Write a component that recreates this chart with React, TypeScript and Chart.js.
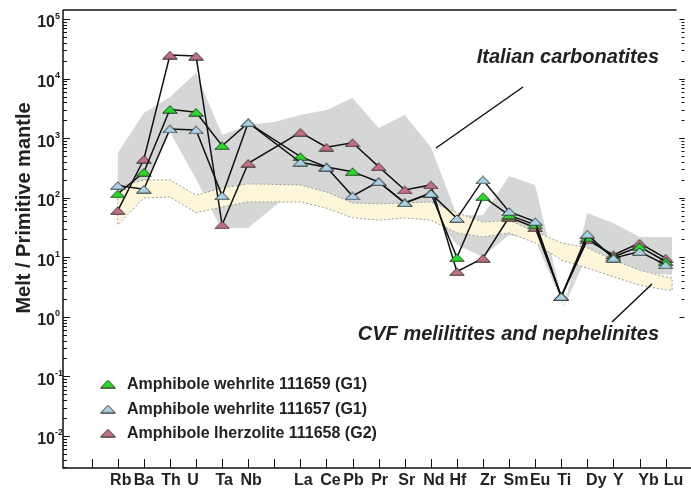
import React, { useEffect, useRef } from 'react';
import { Chart, registerables } from 'chart.js';

Chart.register(...registerables);

// ---------- data ----------
const elements = ['Rb', 'Ba', 'Th', 'U', 'Ta', 'Nb', '', 'La', 'Ce', 'Pb', 'Pr', 'Sr', 'Nd', 'Hf', 'Zr', 'Sm', 'Eu', 'Ti', 'Dy', 'Y', 'Yb', 'Lu'];

const wehrlite111659 = [116, 268, 3055, 2720, 748, 1800, null, 490, 329, 274, 184, 82, 120, 9.9, 104, 51, 35, 2.19, 21.2, 10.2, 15.1, 8.5];
const wehrlite111657 = [160, 139, 1427, 1373, 108, 1820, null, 394, 325, 107, 186, 82, 118, 45, 199, 58.5, 39.7, 2.19, 24.4, 9.66, 12.5, 7.45];
const lherzolite111658 = [60.8, 443, 24900, 23900, 35, 379, null, 1256, 704, 840, 333, 135, 164, 5.75, 9.66, 47, 31.5, 2.19, 19.6, 11, 17.3, 9.66];

// Italian carbonatites field: [element position, value]
const carbUpper = [[0, 565], [1, 2650], [2, 4910], [3, 12400], [4, 1130], [5, 1660], [6, 1870], [7, 2450], [8, 2970], [9, 4720], [10, 1480], [11, 2450], [12, 711], [13, 51], [14, 51], [15, 232], [16, 164], [17.1, 1.47], [18, 55.6], [19, 37.8], [20, 22], [21.25, 22]];
const carbLower = [[21.25, 5.07], [20, 5.47], [19, 7.45], [18, 11], [17.1, 1.47], [16, 19.6], [15, 23.8], [14, 10.2], [13, 16.1], [12, 62], [11, 62], [10, 62], [9, 76], [8, 111], [7, 164], [6.3, 92], [5, 31], [3.95, 31], [3, 206], [2, 1270], [1, 135], [0, 92]];

// CVF melilitites and nephelinites field
const cvfUpper = [[0, 152], [1, 199], [2, 199], [3, 111], [4, 146], [5, 171], [7, 164], [8, 125], [9, 82], [10, 79], [11, 82], [12, 85], [13, 56], [14, 39], [15, 42], [16, 27], [17, 17.5], [18, 14.4], [19, 9.0], [20, 6.1], [21, 4.7], [21.25, 4.5]];
const cvfLower = [[21.25, 2.8], [21, 2.84], [20, 3.4], [19, 4.7], [18, 6.6], [17, 9.0], [16, 17.5], [15, 25.7], [14, 22], [13, 25.7], [12, 42], [11, 46], [10, 42], [9, 46], [8, 67], [7, 85], [5, 85], [4, 70], [3, 56], [2, 103], [1, 99], [0, 35]];

const yTickExponents = [-2, -1, 0, 1, 2, 3, 4, 5];
const rightTickExponents = [0, 1, 2, 3, 4];
const legendLabels = ['Amphibole wehrlite 111659 (G1)', 'Amphibole wehrlite 111657 (G1)', 'Amphibole lherzolite 111658 (G2)'];
const seriesColors = ['#1ee21e', '#a8d2e8', '#c66f83'];
const axisTitle = 'Melt / Primitive mantle';
const fieldLabels = ['Italian carbonatites', 'CVF melilitites and nephelinites'];

// layout (pixel nudges of the element labels, as typeset in the original figure)
const labelNudge = [3, 0, 1, -3, 2, 3, 0, 3, 4, 1, 1, 2, 3, 1, 5, 7, 5, 3, 9, 5, 9, 8];

const X_MIN = -2.1;
const X_MAX = 21.61;
const Y_MIN = 0.0029;
const Y_MAX = 1.42e5;

const FONT = "Arial, 'Liberation Sans', Helvetica, sans-serif";

function makeTriangle(color: string, w = 16, h = 9): HTMLCanvasElement {
  const c = document.createElement('canvas');
  c.width = w;
  c.height = h;
  const g = c.getContext('2d')!;
  g.beginPath();
  g.moveTo(0.75, h - 0.75);
  g.lineTo(w - 0.75, h - 0.75);
  g.lineTo(w / 2, 0.75);
  g.closePath();
  g.fillStyle = color;
  g.fill();
  g.strokeStyle = '#333';
  g.lineWidth = 1;
  g.stroke();
  return c;
}

function toPoints(vals: (number | null)[]) {
  const pts: { x: number; y: number }[] = [];
  vals.forEach((v, i) => {
    if (v !== null) pts.push({ x: i, y: v });
  });
  return pts;
}

function polygon(upper: number[][], lower: number[][], close: boolean) {
  const pts = [...upper, ...lower].map(([x, y]) => ({ x, y }));
  if (close) pts.push({ x: upper[0][0], y: upper[0][1] });
  return pts;
}

export default function App() {
  const ref = useRef<HTMLCanvasElement | null>(null);

  useEffect(() => {
    if (!ref.current) return;
    const tris = seriesColors.map((c) => makeTriangle(c));

    const decor = {
      id: 'decor',
      afterDraw(chart: any) {
        const { ctx, chartArea: a, scales } = chart;
        const xs = scales.x;
        const ys = scales.y;
        ctx.save();
        ctx.strokeStyle = '#111';
        // frame
        ctx.lineWidth = 1.5;
        ctx.beginPath();
        ctx.moveTo(a.left, a.top);
        ctx.lineTo(a.left, a.bottom);
        ctx.lineTo(chart.width, a.bottom);
        ctx.moveTo(a.left, a.top);
        ctx.lineTo(a.right - 5, a.top);
        ctx.stroke();

        // y ticks
        ctx.lineWidth = 1;
        ctx.beginPath();
        for (let e = -3; e <= 5; e++) {
          for (let m = 1; m <= 9; m++) {
            const v = m * Math.pow(10, e);
            if (v < Y_MIN || v > Y_MAX) continue;
            const py = Math.round(ys.getPixelForValue(v)) + 0.5;
            const len = m === 1 ? 7 : 4;
            ctx.moveTo(a.left, py);
            ctx.lineTo(a.left + len, py);
          }
        }
        // right side ticks
        rightTickExponents.forEach((e) => {
          for (let m = 1; m <= 10; m++) {
            const v = m * Math.pow(10, e);
            const py = Math.round(ys.getPixelForValue(v)) + 0.5;
            const len = m === 1 || m === 10 ? 5 : 3;
            ctx.moveTo(a.right + 3 - len, py);
            ctx.lineTo(a.right + 3, py);
          }
        });
        // x ticks
        for (let i = -1; i < elements.length; i++) {
          const px = Math.round(xs.getPixelForValue(i)) + 0.5;
          ctx.moveTo(px, a.bottom);
          ctx.lineTo(px, a.bottom - 9);
        }
        ctx.stroke();

        // y tick labels
        ctx.fillStyle = '#222';
        yTickExponents.forEach((e) => {
          const py = ys.getPixelForValue(Math.pow(10, e));
          ctx.font = `bold 16px ${FONT}`;
          ctx.textAlign = 'right';
          ctx.textBaseline = 'middle';
          ctx.fillText('10', 55, py + 4);
          ctx.font = `bold 9px ${FONT}`;
          ctx.textAlign = 'left';
          ctx.fillText(e < 0 ? '-' + String(-e) : String(e), 55, py - 3);
        });

        // x labels
        ctx.font = `bold 16px ${FONT}`;
        ctx.textAlign = 'center';
        ctx.textBaseline = 'alphabetic';
        elements.forEach((el, i) => {
          if (!el) return;
          ctx.fillText(el, xs.getPixelForValue(i) + labelNudge[i], 485);
        });

        // y title
        ctx.save();
        ctx.translate(24, 208);
        ctx.rotate(-Math.PI / 2);
        ctx.font = `bold 20px ${FONT}`;
        ctx.textAlign = 'center';
        ctx.textBaseline = 'middle';
        ctx.fillText(axisTitle, 0, 0);
        ctx.restore();

        // field labels and leader lines
        ctx.font = `italic bold 20px ${FONT}`;
        ctx.textAlign = 'right';
        ctx.textBaseline = 'middle';
        ctx.fillText(fieldLabels[0], 659, 57);
        ctx.fillText(fieldLabels[1], 659, 334);
        ctx.lineWidth = 1.5;
        ctx.beginPath();
        ctx.moveTo(523, 87);
        ctx.lineTo(436, 148);
        ctx.moveTo(652, 284);
        ctx.lineTo(612, 322);
        ctx.stroke();

        // legend
        const ly = [384, 409, 433];
        ctx.font = `bold 16px ${FONT}`;
        ctx.textAlign = 'left';
        ctx.textBaseline = 'middle';
        legendLabels.forEach((lab, i) => {
          ctx.drawImage(tris[i], 108 - tris[i].width / 2, ly[i] - tris[i].height / 2);
          ctx.fillText(lab, 127, ly[i] + 1);
        });
        ctx.restore();
      },
    };

    const seriesData = [wehrlite111659, wehrlite111657, lherzolite111658];
    const seriesOrder = [2, 1, 3];

    const chart = new Chart(ref.current, {
      type: 'line',
      data: {
        datasets: [
          {
            label: 'Italian carbonatites',
            data: polygon(carbUpper, carbLower, false),
            fill: 'shape',
            backgroundColor: '#d5d7d7',
            borderWidth: 0,
            borderColor: 'rgba(0,0,0,0)',
            pointRadius: 0,
            tension: 0,
            order: 10,
          } as any,
          {
            label: 'CVF',
            data: polygon(cvfUpper, cvfLower, true),
            fill: 'shape',
            backgroundColor: '#fef6d9',
            borderColor: '#9c9c9c',
            borderWidth: 1,
            borderDash: [2, 2],
            pointRadius: 0,
            tension: 0,
            order: 9,
          } as any,
          ...seriesData.map((d, i) => ({
            label: legendLabels[i],
            data: toPoints(d),
            borderColor: '#111',
            borderWidth: 1.5,
            pointStyle: tris[i],
            pointRadius: 8,
            fill: false,
            tension: 0,
            order: seriesOrder[i],
          })),
        ],
      },
      options: {
        responsive: false,
        animation: false,
        devicePixelRatio: 1,
        layout: { padding: { left: 63, right: 3, top: 10, bottom: 22 } },
        scales: {
          x: { type: 'linear', display: false, min: X_MIN, max: X_MAX },
          y: { type: 'logarithmic', display: false, min: Y_MIN, max: Y_MAX },
        },
        plugins: {
          legend: { display: false },
          tooltip: { enabled: false },
        },
      },
      plugins: [decor],
    });
    return () => chart.destroy();
  }, []);

  return (
    <div style={{ position: 'fixed', left: 0, top: 0, width: 691, height: 490, background: '#fff' }}>
      <canvas ref={ref} width={691} height={490} style={{ width: 691, height: 490, display: 'block' }} />
    </div>
  );
}
